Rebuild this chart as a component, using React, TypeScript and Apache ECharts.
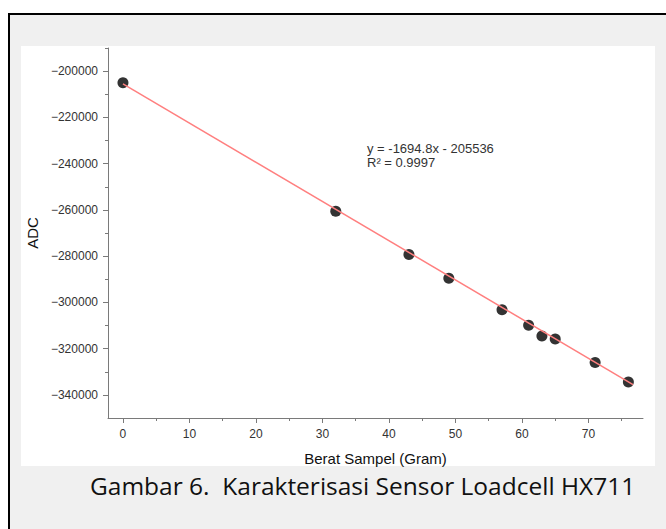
import React, { useEffect, useRef } from "react";
import * as echarts from "echarts";

// Data
const weights: number[] = [0, 32, 43, 49, 57, 61, 63, 65, 71, 76];
const adcValues: number[] = [-205000, -260600, -279300, -289600, -303200, -309900, -314500, -315800, -326000, -334400];

// Trendline (as printed in the chart)
const trendSlope = -1694.8;
const trendIntercept = -205536;
const trendXRange: number[] = [0, 76.7];
const equationLines: string[] = ["y = -1694.8x - 205536", "R² = 0.9997"];

// Axis ticks
const xMajorTicks: number[] = [0, 10, 20, 30, 40, 50, 60, 70];
const xMinorTicks: number[] = [5, 15, 25, 35, 45, 55, 65, 75];
const yMajorTicks: number[] = [-340000, -320000, -300000, -280000, -260000, -240000, -220000, -200000];
const yMinorTicks: number[] = [-330000, -310000, -290000, -270000, -250000, -230000, -210000, -190000];

const xTitle = "Berat Sampel (Gram)";
const yTitle = "ADC";
const caption = "Gambar 6.  Karakterisasi Sensor Loadcell HX711";

const X_MIN = -2.25;
const X_MAX = 78.2;
const Y_MIN = -350000;
const Y_MAX = -190000;

export default function App() {
  const ref = useRef<HTMLDivElement>(null);

  useEffect(() => {
    if (!ref.current) return;
    const chart = echarts.init(ref.current, null, { renderer: "svg" });

    const axisColor = "#7a7a7a";
    const labelColor = "#333333";
    const font = "'Liberation Sans', Arial, sans-serif";

    const trendData = trendXRange.map((x) => [x, trendSlope * x + trendIntercept]);

    const option: any = {
      animation: false,
      backgroundColor: "#ffffff",
      textStyle: { fontFamily: font },
      graphic: [
        {
          type: "rect",
          z: -10,
          shape: { x: 9, y: 14, width: 700, height: 600 },
          style: { fill: "#f0f0f0", stroke: "#000000", lineWidth: 2 },
        },
        {
          type: "rect",
          z: -9,
          shape: { x: 21, y: 46, width: 634, height: 420 },
          style: { fill: "#ffffff" },
        },
        {
          type: "text",
          x: 367,
          y: 148,
          style: {
            text: equationLines[0],
            fontSize: 13,
            fontFamily: font,
            fill: labelColor,
            verticalAlign: "middle",
          },
        },
        {
          type: "text",
          x: 367,
          y: 162.5,
          style: {
            text: equationLines[1],
            fontSize: 13,
            fontFamily: font,
            fill: labelColor,
            verticalAlign: "middle",
          },
        },
        {
          type: "text",
          x: 90,
          y: 485,
          style: {
            text: caption,
            fontSize: 24.5,
            fontFamily: "'Open Sans', sans-serif",
            fill: "#111111",
            verticalAlign: "middle",
          },
        },
      ],
      grid: { left: 108, top: 48, width: 535, height: 370, containLabel: false },
      xAxis: [
        {
          type: "value",
          min: X_MIN,
          max: X_MAX,
          name: xTitle,
          nameLocation: "middle",
          nameGap: 33,
          nameTextStyle: { fontSize: 15, color: "#111", fontFamily: font },
          axisLine: { show: true, onZero: false, lineStyle: { color: axisColor, width: 1 } },
          axisTick: { show: true, customValues: xMajorTicks, length: 5, lineStyle: { color: axisColor } },
          axisLabel: { show: true, customValues: xMajorTicks, margin: 10, fontSize: 12, color: labelColor },
          splitLine: { show: false },
        },
        {
          type: "value",
          min: X_MIN,
          max: X_MAX,
          position: "bottom",
          axisLine: { show: false, onZero: false },
          axisTick: { show: true, customValues: xMinorTicks, length: 3, lineStyle: { color: axisColor } },
          axisLabel: { show: false },
          splitLine: { show: false },
        },
      ],
      yAxis: [
        {
          type: "value",
          min: Y_MIN,
          max: Y_MAX,
          position: "left",
          name: yTitle,
          nameLocation: "middle",
          nameGap: 66,
          nameTextStyle: { fontSize: 15, color: "#111", fontFamily: font },
          axisLine: { show: true, onZero: false, lineStyle: { color: axisColor, width: 1 } },
          axisTick: { show: true, customValues: yMajorTicks, length: 5, lineStyle: { color: axisColor } },
          axisLabel: {
            show: true,
            customValues: yMajorTicks,
            margin: 10,
            fontSize: 12,
            color: labelColor,
            formatter: (v: number) => String(v).replace("-", "\u2212"),
          },
          splitLine: { show: false },
        },
        {
          type: "value",
          min: Y_MIN,
          max: Y_MAX,
          position: "left",
          axisLine: { show: false, onZero: false },
          axisTick: { show: true, customValues: yMinorTicks, length: 3, lineStyle: { color: axisColor } },
          axisLabel: { show: false },
          splitLine: { show: false },
        },
      ],
      series: [
        {
          type: "scatter",
          xAxisIndex: 0,
          yAxisIndex: 0,
          data: weights.map((w, i) => [w, adcValues[i]]),
          symbol: "circle",
          symbolSize: 11,
          itemStyle: { color: "#000000" },
          z: 2,
        },
        {
          type: "line",
          xAxisIndex: 0,
          yAxisIndex: 0,
          data: trendData,
          showSymbol: false,
          symbol: "none",
          lineStyle: { color: "#ff7f7f", width: 1.5 },
          z: 3,
        },
      ],
    };

    chart.setOption(option);
    return () => chart.dispose();
  }, []);

  return (
    <div
      ref={ref}
      style={{ position: "fixed", left: 0, top: 0, width: 666, height: 529 }}
    />
  );
}
